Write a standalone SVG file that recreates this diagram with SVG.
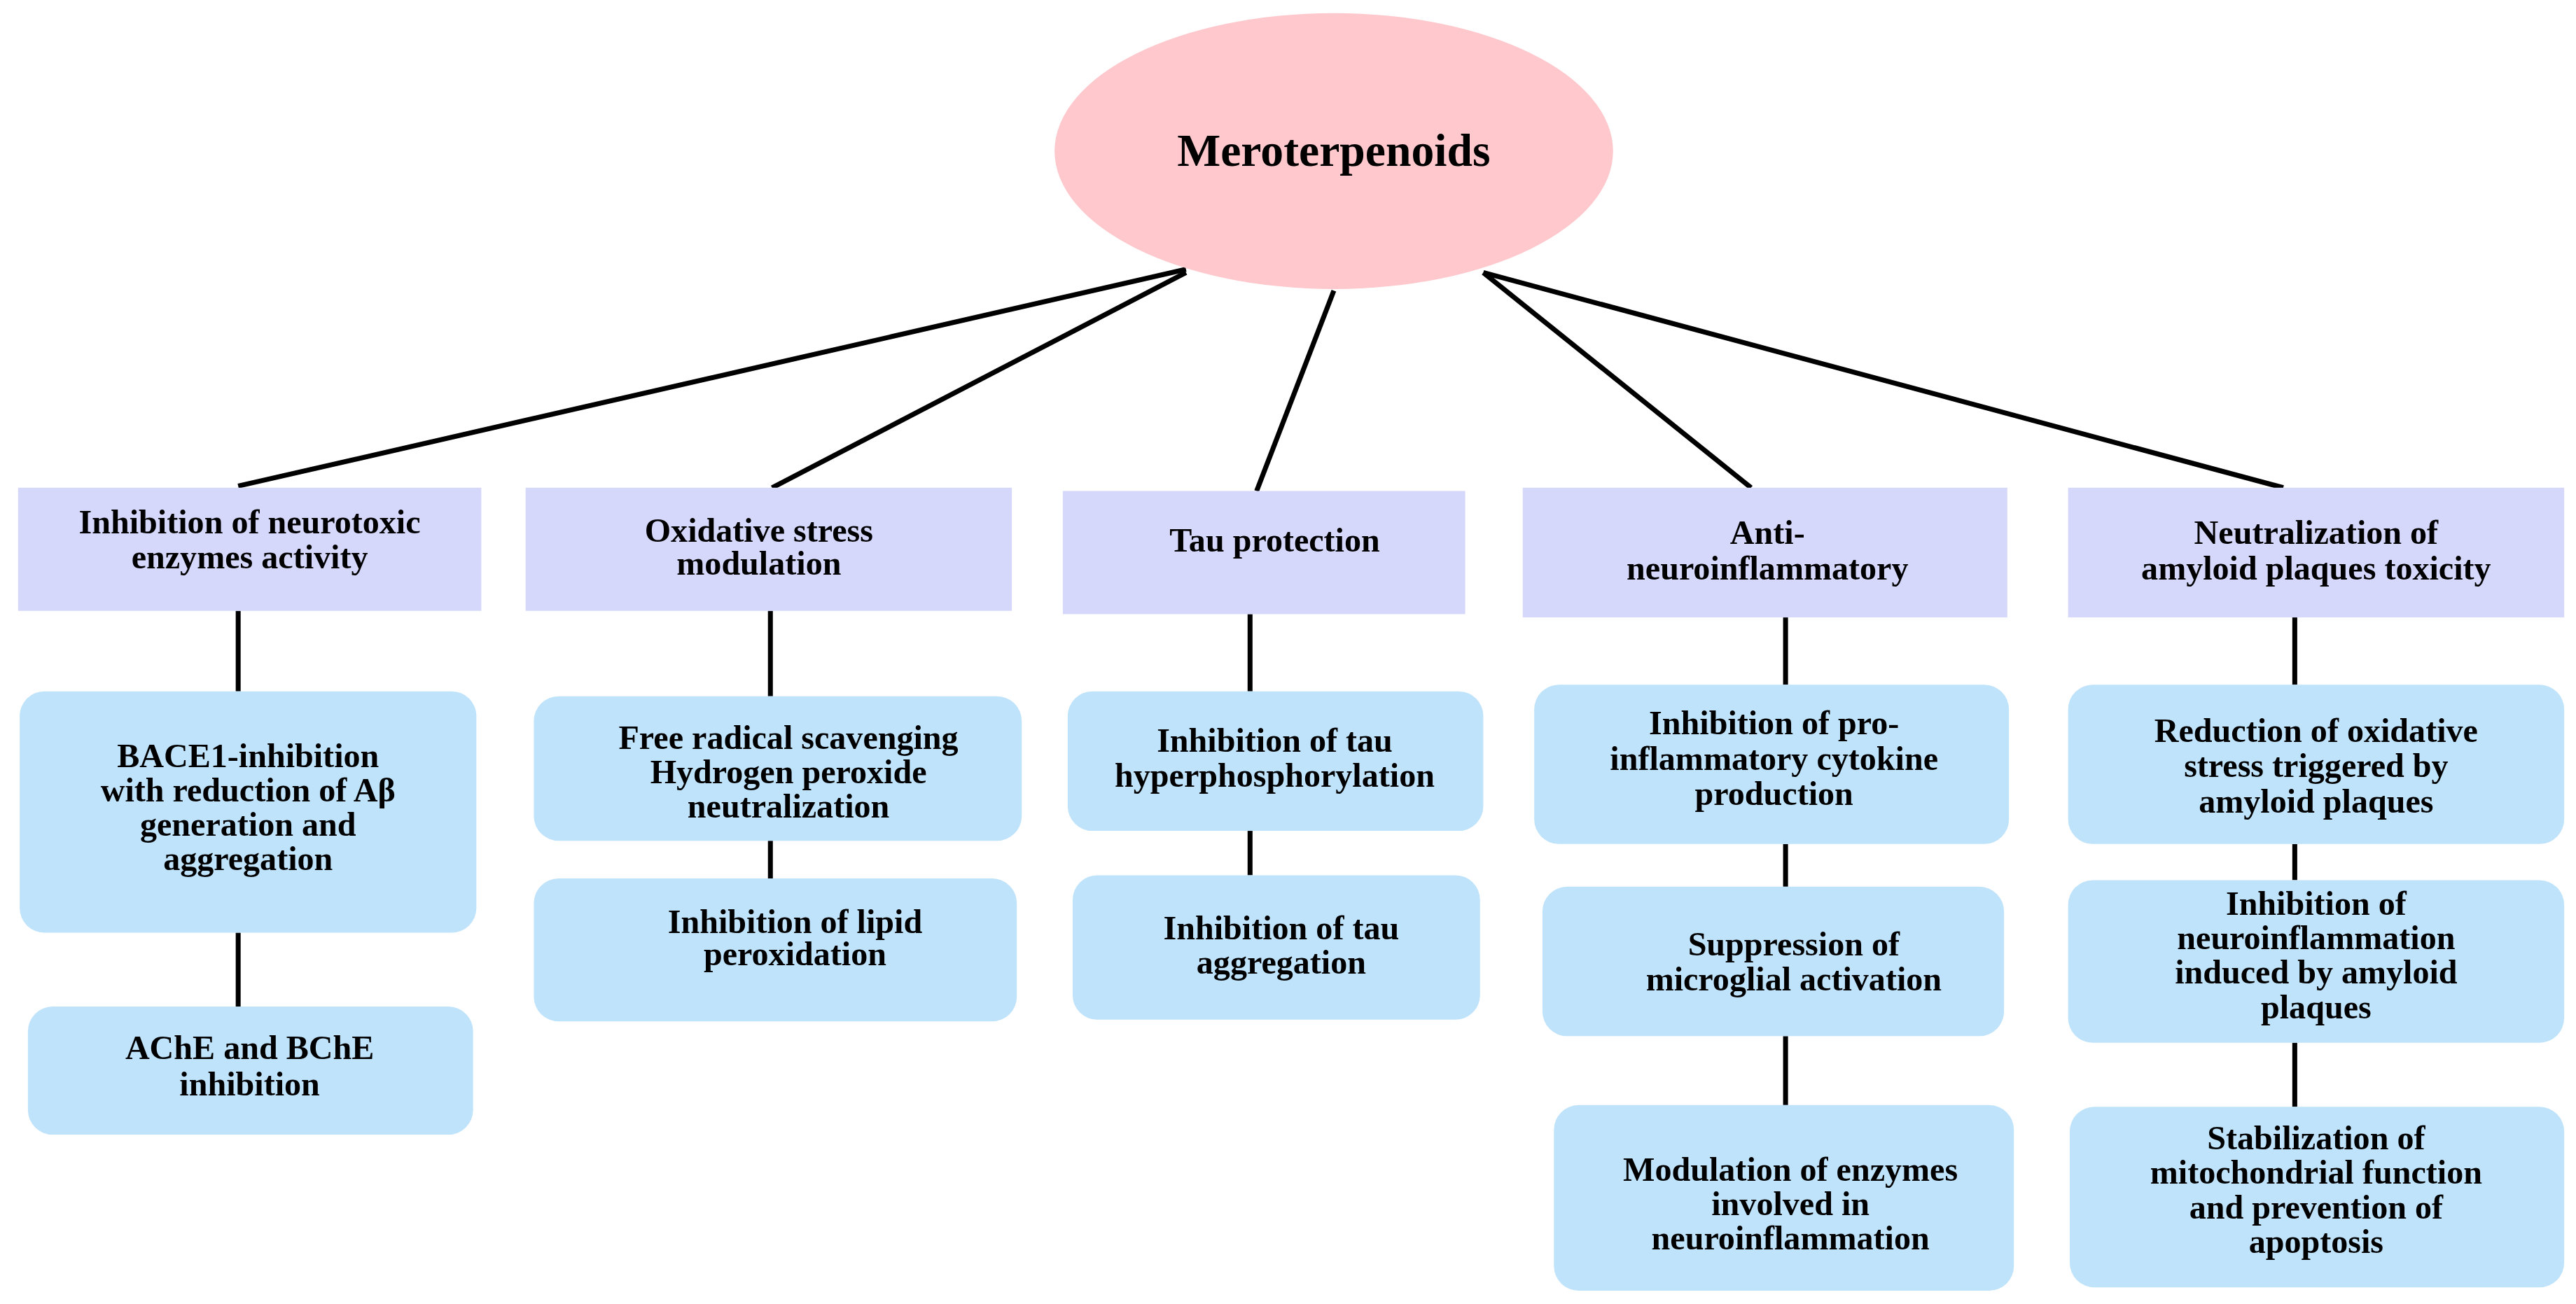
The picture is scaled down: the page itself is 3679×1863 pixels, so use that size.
<svg xmlns="http://www.w3.org/2000/svg" width="3679" height="1863" viewBox="0 0 3679 1863">
<style>
.t{font-family:"Liberation Serif",serif;font-weight:bold;font-size:20.5px;fill:#000;text-anchor:middle}
.top{fill:#d6d8fb}
.sub{fill:#bfe3fb}
.c line{stroke:#000;stroke-width:3}
</style>
<rect width="3679" height="1863" fill="#fff"/>
<g transform="scale(2.346)">
<g class="c" id="connectors">
<line x1="722" y1="164" x2="145" y2="296"/>
<line x1="722" y1="166" x2="470" y2="297"/>
<line x1="812" y1="177" x2="765" y2="299"/>
<line x1="903" y1="166" x2="1066" y2="297"/>
<line x1="903" y1="166" x2="1390" y2="297"/>
<line x1="145" y1="372" x2="145" y2="421"/>
<line x1="145" y1="568" x2="145" y2="613"/>
<line x1="469" y1="372" x2="469" y2="424"/>
<line x1="469" y1="512" x2="469" y2="535"/>
<line x1="761" y1="374" x2="761" y2="421"/>
<line x1="761" y1="506" x2="761" y2="533"/>
<line x1="1087" y1="376" x2="1087" y2="417"/>
<line x1="1087" y1="514" x2="1087" y2="540"/>
<line x1="1087" y1="631" x2="1087" y2="673"/>
<line x1="1397" y1="376" x2="1397" y2="417"/>
<line x1="1397" y1="514" x2="1397" y2="536"/>
<line x1="1397" y1="635" x2="1397" y2="674"/>
</g>
<g id="root"><ellipse cx="812" cy="92" rx="170" ry="84" fill="#fec8cd"/><text class="t" x="812" y="101" style="font-size:28px">Meroterpenoids</text></g>
<g id="n1"><rect class="top" x="11" y="297" width="282" height="75"/><text class="t" x="152" y="325">Inhibition of neurotoxic</text><text class="t" x="152" y="346">enzymes activity</text></g>
<g id="n2"><rect class="top" x="320" y="297" width="296" height="75"/><text class="t" x="462" y="330">Oxidative stress</text><text class="t" x="462" y="350">modulation</text></g>
<g id="n3"><rect class="top" x="647" y="299" width="245" height="75"/><text class="t" x="776" y="336">Tau protection</text></g>
<g id="n4"><rect class="top" x="927" y="297" width="295" height="79"/><text class="t" x="1076" y="331">Anti-</text><text class="t" x="1076" y="353">neuroinflammatory</text></g>
<g id="n5"><rect class="top" x="1259" y="297" width="302" height="79"/><text class="t" x="1410" y="331">Neutralization of</text><text class="t" x="1410" y="353">amyloid plaques toxicity</text></g>
<g id="n1a"><rect class="sub" x="12" y="421" width="278" height="147" rx="15"/><text class="t" x="151" y="467">BACE1-inhibition</text><text class="t" x="151" y="488">with reduction of Aβ</text><text class="t" x="151" y="509">generation and</text><text class="t" x="151" y="530">aggregation</text></g>
<g id="n1b"><rect class="sub" x="17" y="613" width="271" height="78" rx="15"/><text class="t" x="152" y="645">AChE and BChE</text><text class="t" x="152" y="667">inhibition</text></g>
<g id="n2a"><rect class="sub" x="325" y="424" width="297" height="88" rx="15"/><text class="t" x="480" y="456">Free radical scavenging</text><text class="t" x="480" y="477">Hydrogen peroxide</text><text class="t" x="480" y="498">neutralization</text></g>
<g id="n2b"><rect class="sub" x="325" y="535" width="294" height="87" rx="15"/><text class="t" x="484" y="568">Inhibition of lipid</text><text class="t" x="484" y="588">peroxidation</text></g>
<g id="n3a"><rect class="sub" x="650" y="421" width="253" height="85" rx="15"/><text class="t" x="776" y="458">Inhibition of tau</text><text class="t" x="776" y="479">hyperphosphorylation</text></g>
<g id="n3b"><rect class="sub" x="653" y="533" width="248" height="88" rx="15"/><text class="t" x="780" y="572">Inhibition of tau</text><text class="t" x="780" y="593">aggregation</text></g>
<g id="n4a"><rect class="sub" x="934" y="417" width="289" height="97" rx="15"/><text class="t" x="1080" y="447">Inhibition of pro-</text><text class="t" x="1080" y="469">inflammatory cytokine</text><text class="t" x="1080" y="490">production</text></g>
<g id="n4b"><rect class="sub" x="939" y="540" width="281" height="91" rx="15"/><text class="t" x="1092" y="582">Suppression of</text><text class="t" x="1092" y="603">microglial activation</text></g>
<g id="n4c"><rect class="sub" x="946" y="673" width="280" height="113" rx="15"/><text class="t" x="1090" y="719">Modulation of enzymes</text><text class="t" x="1090" y="740">involved in</text><text class="t" x="1090" y="761">neuroinflammation</text></g>
<g id="n5a"><rect class="sub" x="1259" y="417" width="302" height="97" rx="15"/><text class="t" x="1410" y="452">Reduction of oxidative</text><text class="t" x="1410" y="473">stress triggered by</text><text class="t" x="1410" y="495">amyloid plaques</text></g>
<g id="n5b"><rect class="sub" x="1259" y="536" width="302" height="99" rx="15"/><text class="t" x="1410" y="557">Inhibition of</text><text class="t" x="1410" y="578">neuroinflammation</text><text class="t" x="1410" y="599">induced by amyloid</text><text class="t" x="1410" y="620">plaques</text></g>
<g id="n5c"><rect class="sub" x="1260" y="674" width="301" height="110" rx="15"/><text class="t" x="1410" y="700">Stabilization of</text><text class="t" x="1410" y="721">mitochondrial function</text><text class="t" x="1410" y="742">and prevention of</text><text class="t" x="1410" y="763">apoptosis</text></g>
</g>
</svg>
